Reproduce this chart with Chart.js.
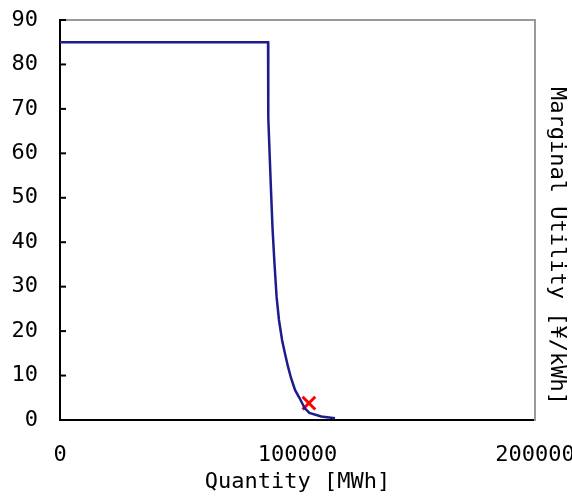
<!DOCTYPE html>
<html>
<head>
<meta charset="utf-8">
<script src="https://cdn.jsdelivr.net/npm/chart.js@4"></script>
<style>
  html, body { margin: 0; padding: 0; background: #fff; }
  #wrap { width: 572px; height: 499px; }
</style>
</head>
<body>
<div id="wrap"><canvas id="utilityChart" width="572" height="499"></canvas></div>
<script>
// demand curve, quantity in MWh, utility in yen/kWh
var quantity = [0, 87600, 87700, 88700, 89500, 90300, 91200, 92200, 93500, 94700, 96000, 97300, 99000, 100800, 103000, 105000, 110000, 115800];
var utility  = [85, 85, 68, 53.6, 43, 35.3, 27.7, 22.5, 18, 15, 12, 9.4, 6.7, 5, 2.7, 1.6, 0.8, 0.4];

// cleared point
var clearQuantity = [104800];
var clearUtility = [3.8];

var xTicks = [0, 100000, 200000];
var yTicks = [0, 10, 20, 30, 40, 50, 60, 70, 80, 90];

var yTitle = 'Marginal Utility [¥/kWh]';
var font = { family: "'DejaVu Sans Mono', monospace", size: 22 };

// frame on top, inward tick marks on the y axis, right-hand title
var framePlugin = {
  id: 'frame',
  afterDraw: function(chart) {
    var ctx = chart.ctx, a = chart.chartArea, y = chart.scales.y;
    ctx.save();
    ctx.strokeStyle = '#999';
    ctx.lineWidth = 2;
    ctx.beginPath();
    ctx.moveTo(a.left, a.top);
    ctx.lineTo(a.right, a.top);
    ctx.stroke();
    ctx.strokeStyle = '#000';
    yTicks.forEach(function(v) {
      var py = y.getPixelForValue(v);
      ctx.beginPath();
      ctx.moveTo(a.left, py);
      ctx.lineTo(a.left + 6, py);
      ctx.stroke();
    });
    ctx.translate(a.right + 22, (a.top + a.bottom) / 2 + 26);
    ctx.rotate(Math.PI / 2);
    ctx.fillStyle = '#000';
    ctx.font = font.size + 'px ' + font.family;
    ctx.textAlign = 'center';
    ctx.textBaseline = 'middle';
    ctx.fillText(yTitle, 0, 0);
    ctx.restore();
  }
};

var ctx = document.getElementById('utilityChart').getContext('2d');

var chart = new Chart(ctx, {
  type: 'scatter',
  data: {
    datasets: [{
      data: quantity.map(function(q, i) { return { x: q, y: utility[i] }; }),
      showLine: true,
      borderColor: '#1c1c8c',
      borderWidth: 2.5,
      pointRadius: 0,
      fill: false
    }, {
      data: clearQuantity.map(function(q, i) { return { x: q, y: clearUtility[i] }; }),
      pointStyle: 'crossRot',
      pointRadius: 9,
      borderColor: '#ff0000',
      borderWidth: 3,
      showLine: false
    }]
  },
  options: {
    responsive: false,
    animation: false,
    layout: { padding: { top: 20, left: 0, right: 0, bottom: 0 } },
    plugins: {
      legend: { display: false },
      tooltip: { enabled: false }
    },
    scales: {
      x: {
        type: 'linear',
        position: 'bottom',
        min: 0,
        max: 200000,
        afterBuildTicks: function(s) { s.ticks = xTicks.map(function(v) { return { value: v }; }); },
        afterFit: function(s) { s.height = 79; s.paddingRight = 37; },
        ticks: {
          color: '#000',
          font: font,
          padding: 22,
          maxRotation: 0,
          callback: function(v) { return String(v); }
        },
        grid: { display: false, drawTicks: false },
        border: { color: '#000', width: 2 },
        title: {
          display: true,
          text: 'Quantity [MWh]',
          color: '#000',
          font: font,
          padding: { top: 0, bottom: 4 }
        }
      },
      y: {
        position: 'left',
        min: 0,
        max: 90,
        afterBuildTicks: function(s) { s.ticks = yTicks.map(function(v) { return { value: v }; }); },
        afterFit: function(s) { s.width = 60; s.paddingTop = 0; s.paddingBottom = 0; },
        ticks: { color: '#000', font: font, padding: 22 },
        grid: { display: false, drawTicks: false },
        border: { color: '#000', width: 2 }
      },
      y2: {
        position: 'right',
        min: 0,
        max: 90,
        afterFit: function(s) { s.width = 37; s.paddingTop = 0; s.paddingBottom = 0; },
        ticks: { display: false },
        grid: { display: false, drawTicks: false },
        border: { color: '#999', width: 2 }
      }
    }
  },
  plugins: [framePlugin]
});
</script>
</body>
</html>
